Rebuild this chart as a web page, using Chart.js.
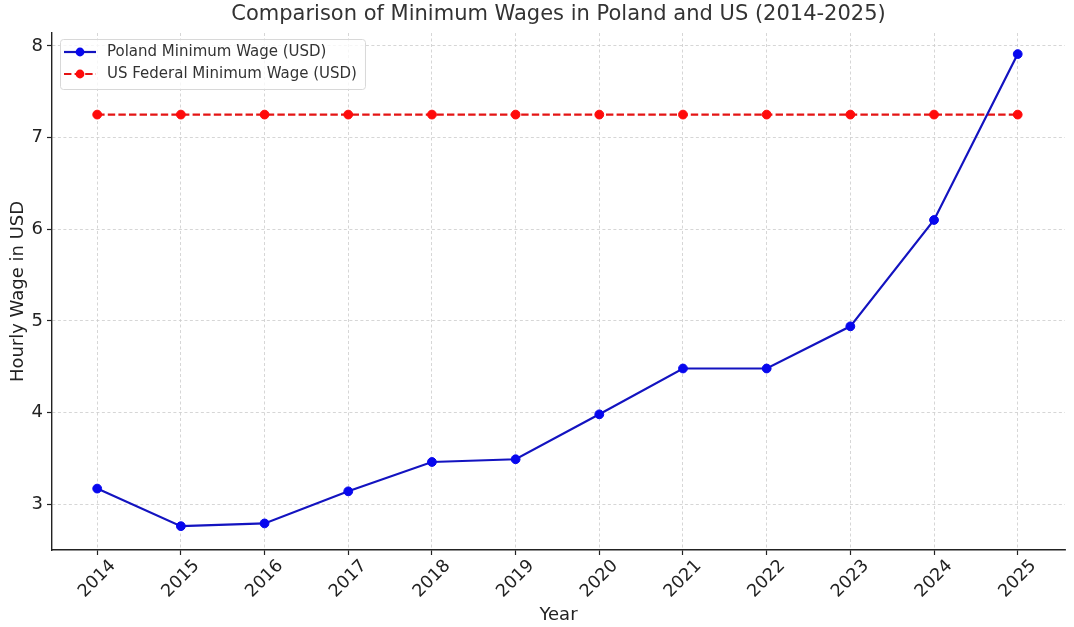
<!DOCTYPE html>
<html>
<head>
<meta charset="utf-8">
<script src="https://cdn.jsdelivr.net/npm/chart.js@4.4.0/dist/chart.umd.min.js"></script>
<style>
  body { margin: 0; background: #fff; }
</style>
</head>
<body>
<canvas id="wages" width="1074" height="627"></canvas>
<script>
const years = [2014, 2015, 2016, 2017, 2018, 2019, 2020, 2021, 2022, 2023, 2024, 2025];
const yearLabels = ['2014', '2015', '2016', '2017', '2018', '2019', '2020', '2021', '2022', '2023', '2024', '2025'];
const polandWage = [3.17, 2.76, 2.79, 3.14, 3.46, 3.49, 3.98, 4.48, 4.48, 4.94, 6.10, 7.91];
const usWage = [7.25, 7.25, 7.25, 7.25, 7.25, 7.25, 7.25, 7.25, 7.25, 7.25, 7.25, 7.25];
const wageTicks = [3, 4, 5, 6, 7, 8];

const chartTitle = 'Comparison of Minimum Wages in Poland and US (2014-2025)';
const FONT = "'DejaVu Sans', sans-serif";

// title centred over the axes, not over the whole canvas
const axesTitle = {
  id: 'axesTitle',
  afterDraw(chart) {
    const {ctx, chartArea} = chart;
    ctx.save();
    ctx.font = `21px ${FONT}`;
    ctx.fillStyle = '#333';
    ctx.textAlign = 'center';
    ctx.textBaseline = 'middle';
    ctx.fillText(chartTitle, (chartArea.left + chartArea.right) / 2, 15);
    ctx.restore();
  }
};

// rotated year labels centred on their tick (Chart.js would right-align them)
const yearTickLabels = {
  id: 'yearTickLabels',
  afterDraw(chart) {
    const {ctx} = chart;
    const x = chart.scales.x;
    ctx.save();
    ctx.font = `17.5px ${FONT}`;
    ctx.fillStyle = '#222';
    ctx.textAlign = 'center';
    ctx.textBaseline = 'middle';
    years.forEach((yr, i) => {
      ctx.save();
      ctx.translate(x.getPixelForValue(yr), x.top + 29);
      ctx.rotate(-Math.PI / 4);
      ctx.fillText(yearLabels[i], 0, 0);
      ctx.restore();
    });
    ctx.restore();
  }
};

// legend box inside the top-left corner of the plot
const insideLegend = {
  id: 'insideLegend',
  afterDraw(chart) {
    const {ctx, chartArea} = chart;
    const x0 = chartArea.left + 8;
    const y0 = chartArea.top + 6;
    ctx.save();
    ctx.font = `15px ${FONT}`;
    const textW = Math.max(...chart.data.datasets.map(ds => ctx.measureText(ds.label).width));
    const w = 47 + textW + 8;
    const h = 50;
    ctx.fillStyle = 'rgba(255,255,255,0.8)';
    ctx.strokeStyle = '#d8d8d8';
    ctx.lineWidth = 1;
    ctx.beginPath();
    ctx.roundRect(x0 + 0.5, y0 + 0.5, w, h, 3);
    ctx.fill();
    ctx.stroke();
    ctx.textBaseline = 'middle';
    chart.data.datasets.forEach((ds, i) => {
      const cy = y0 + 13 + i * 22;
      ctx.strokeStyle = ds.borderColor;
      ctx.lineWidth = ds.borderWidth;
      ctx.setLineDash(ds.borderDash || []);
      ctx.beginPath();
      ctx.moveTo(x0 + 4, cy);
      ctx.lineTo(x0 + 36, cy);
      ctx.stroke();
      ctx.setLineDash([]);
      ctx.fillStyle = ds.pointBackgroundColor;
      ctx.beginPath();
      ctx.arc(x0 + 20, cy, ds.pointRadius, 0, Math.PI * 2);
      ctx.fill();
      ctx.fillStyle = '#333';
      ctx.textAlign = 'left';
      ctx.fillText(ds.label, x0 + 47, cy);
    });
    ctx.restore();
  }
};

const gridOpts = {color: '#cccccc', lineWidth: 0.8, tickColor: '#222', tickLength: 5, tickWidth: 1.2};
const borderOpts = {color: '#222', width: 1.4, dash: [3, 2.5]};

new Chart(document.getElementById('wages'), {
  type: 'line',
  data: {
    datasets: [
      {
        label: 'Poland Minimum Wage (USD)',
        data: years.map((yr, i) => ({x: yr, y: polandWage[i]})),
        borderColor: '#1313c0',
        borderWidth: 2.2,
        pointBackgroundColor: '#0707ee',
        pointBorderColor: '#0707ee',
        pointBorderWidth: 1,
        pointRadius: 4.4,
        tension: 0
      },
      {
        label: 'US Federal Minimum Wage (USD)',
        data: years.map((yr, i) => ({x: yr, y: usWage[i]})),
        borderColor: '#e41414',
        borderWidth: 2.2,
        borderDash: [7.4, 3.2],
        pointBackgroundColor: '#ff0b0b',
        pointBorderColor: '#ff0b0b',
        pointBorderWidth: 1,
        pointRadius: 4.4,
        tension: 0
      }
    ]
  },
  options: {
    responsive: false,
    animation: false,
    devicePixelRatio: 1,
    layout: {padding: {top: 33, right: 9}},
    plugins: {
      legend: {display: false},
      title: {display: false},
      tooltip: {enabled: false}
    },
    scales: {
      x: {
        type: 'linear',
        min: 2013.46,
        max: 2025.565,
        afterBuildTicks: s => { s.ticks = years.map(v => ({value: v})); },
        afterFit: s => { s.height = 77; },
        ticks: {color: 'rgba(0,0,0,0)', font: {size: 17, family: FONT}, maxRotation: 45, minRotation: 45, padding: 3},
        grid: gridOpts,
        border: borderOpts,
        title: {display: true, text: 'Year', color: '#222', font: {size: 18, family: FONT}, padding: {top: 0, bottom: 1}}
      },
      y: {
        min: 2.5,
        max: 8.14,
        afterBuildTicks: s => { s.ticks = wageTicks.map(v => ({value: v})); },
        afterFit: s => { s.width = 52; },
        ticks: {color: '#222', font: {size: 18, family: FONT}, padding: 4},
        grid: gridOpts,
        border: borderOpts,
        title: {display: true, text: 'Hourly Wage in USD', color: '#222', font: {size: 18, family: FONT}, padding: {top: 8, bottom: 0}}
      }
    }
  },
  plugins: [axesTitle, yearTickLabels, insideLegend]
});
</script>
</body>
</html>
